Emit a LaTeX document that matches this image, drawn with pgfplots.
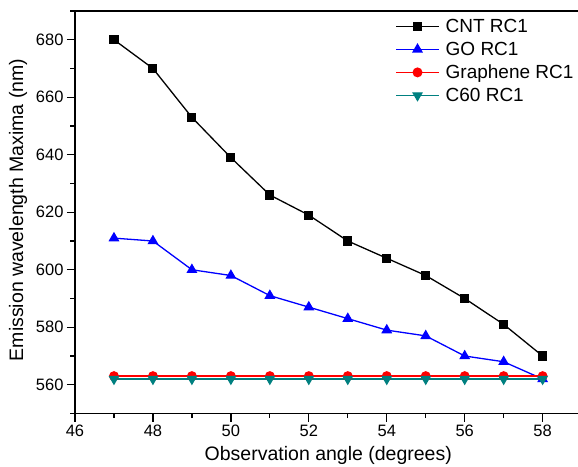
\documentclass[border=0pt]{standalone}
\usepackage{pgfplots}
\pgfplotsset{compat=1.18}
\usepackage{fontspec}
\setmainfont{Liberation Sans}
\definecolor{tealc}{RGB}{0,128,128}
\begin{document}
\begin{tikzpicture}
\begin{axis}[
  scale only axis,
  width=506.6pt, height=402.5pt,
  xmin=46, xmax=59, ymin=550, ymax=690,
  xtick={46,48,...,58}, minor xtick={47,49,...,57},
  ytick={560,580,...,680}, minor ytick={550,570,...,690},
  tick align=outside,
  major tick length=8pt, minor tick length=4.5pt,
  tick style={black, line width=1.3pt},
  xtick pos=bottom, ytick pos=left,
  axis line style={line width=1.6pt},
  /pgf/number format/assume math mode=true,
  ticklabel style={font=\fontsize{16.5}{18}\selectfont},
  label style={font=\fontsize{19.5}{22}\selectfont},
  xlabel={Observation angle (degrees)},
  ylabel={Emission wavelength Maxima (nm)},
  xlabel style={at={(axis description cs:0.5,-0.118)}, anchor=base},
  ylabel style={at={(axis description cs:-0.1125,0.5056)}, anchor=center},
  legend style={draw=none, fill=none, at={(axis description cs:0.632,0.985)}, anchor=north west,
    font=\fontsize{19}{22}\selectfont, row sep=4pt, inner sep=0pt,
    /tikz/every even column/.append style={column sep=0pt}},
  legend cell align=left,
  legend image code/.code={\draw[line width=1.3pt, mark repeat=2,mark phase=2] plot coordinates {(0pt,0pt) (21.5pt,0pt) (43pt,0pt)};},
  every axis plot/.append style={line width=1.3pt},
]
\addplot[black, mark=square*, mark size=3.9pt] coordinates {
(47,680) (48,670) (49,653) (50,639) (51,626) (52,619) (53,610) (54,604) (55,598) (56,590) (57,581) (58,570)};
\addlegendentry{\hspace{4pt}CNT RC1}
\addplot[blue, mark=triangle*, mark size=5pt] coordinates {
(47,611) (48,610) (49,600) (50,598) (51,591) (52,587) (53,583) (54,579) (55,577) (56,570) (57,568) (58,562)};
\addlegendentry{\hspace{4pt}GO RC1}
\addplot[red, mark=*, mark size=4.3pt] coordinates {
(47,563) (48,563) (49,563) (50,563) (51,563) (52,563) (53,563) (54,563) (55,563) (56,563) (57,563) (58,563)};
\addlegendentry{\hspace{4pt}Graphene RC1}
\addplot[tealc, mark=triangle*, mark options={rotate=180}, mark size=5pt] coordinates {
(47,562) (48,562) (49,562) (50,562) (51,562) (52,562) (53,562) (54,562) (55,562) (56,562) (57,562) (58,562)};
\addlegendentry{\hspace{4pt}C60 RC1}
\coordinate (O) at (rel axis cs:0,0);
\end{axis}
\pgfresetboundingbox
\path[use as bounding box] ([shift={(-75pt,-52.5pt)}]O) rectangle ([shift={(503pt,413.5pt)}]O);
\end{tikzpicture}
\end{document}
